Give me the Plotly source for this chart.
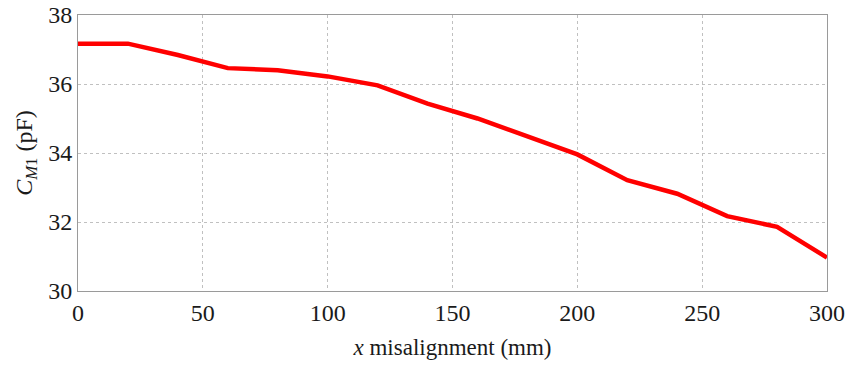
import plotly.graph_objects as go

x_mm = [0, 20, 40, 60, 80, 100, 120, 140, 160, 180, 200, 220, 240, 260, 280, 300]
c_pf = [37.17, 37.17, 36.84, 36.46, 36.40, 36.22, 35.96, 35.43, 35.00, 34.49, 33.96, 33.21, 32.82, 32.17, 31.86, 30.97]

x_ticks = [0, 50, 100, 150, 200, 250, 300]
y_ticks = [30, 32, 34, 36, 38]

font_family = "Liberation Serif, Times New Roman, serif"

fig = go.Figure()
fig.add_trace(go.Scatter(x=x_mm, y=c_pf, mode="lines",
                         line=dict(color="#ff0000", width=4.5), showlegend=False))

fig.update_layout(
    width=850, height=370,
    margin=dict(l=78, r=23, t=15, b=79),
    paper_bgcolor="white", plot_bgcolor="white",
    font=dict(family=font_family, size=24, color="#1a1a1a"),
)
fig.update_xaxes(
    range=[0, 300], tickvals=x_ticks, ticktext=[str(v) for v in x_ticks],
    showgrid=True, gridcolor="#c0c0c0", griddash="dot", gridwidth=1,
    showline=True, linecolor="#9a9a9a", linewidth=1, mirror=True,
    zeroline=False, ticks="", ticklen=0, automargin=False,
    ticklabeloverflow="allow",
    title=dict(text="<i>x</i> misalignment (mm)", standoff=14, font=dict(size=23)),
    tickfont=dict(size=24),
)
fig.update_yaxes(
    range=[30, 38], tickvals=y_ticks, ticktext=[str(v) for v in y_ticks],
    showgrid=True, gridcolor="#c0c0c0", griddash="dot", gridwidth=1,
    showline=True, linecolor="#9a9a9a", linewidth=1, mirror=True,
    zeroline=False, ticks="", ticklen=0, automargin=False,
    ticklabeloverflow="allow",
    title=dict(text="<i>C</i><sub><i>M</i>1</sub> (pF)", standoff=8, font=dict(size=24)),
    tickfont=dict(size=24),
)

fig.write_html("out.html", config={"displayModeBar": False},
               post_script="document.body.style.margin='0';")
